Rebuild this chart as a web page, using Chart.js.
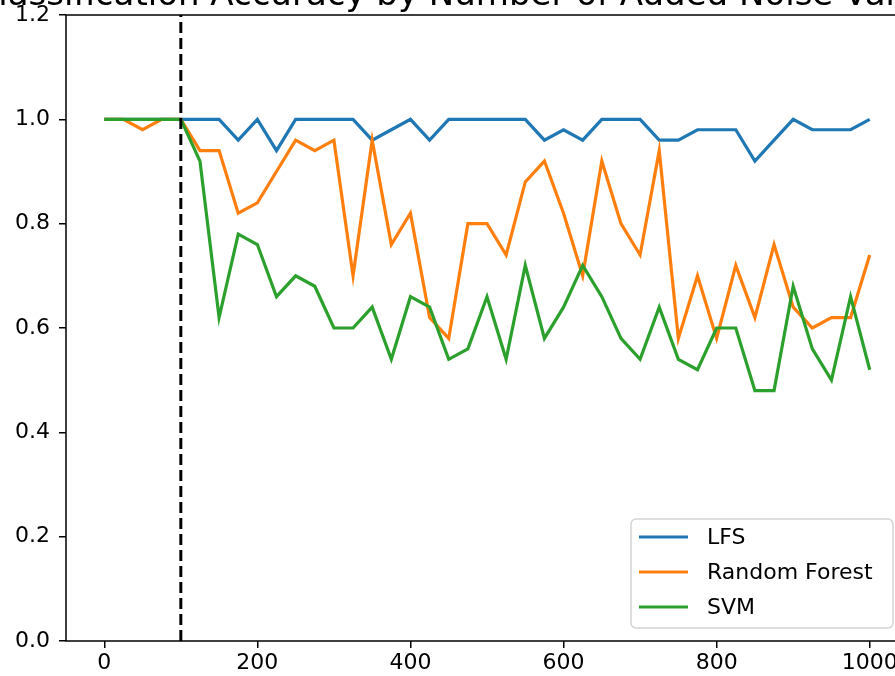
<!DOCTYPE html>
<html>
<head>
<meta charset="utf-8">
<script src="https://cdn.jsdelivr.net/npm/chart.js@4.4.0/dist/chart.umd.min.js"></script>
<style>
  html, body { margin: 0; padding: 0; background: #fff; overflow: hidden; }
  #wrap { width: 908px; height: 676px; }
</style>
</head>
<body>
<div id="wrap"><canvas id="myChart"></canvas></div>
<script>
// noise variables added (x) and accuracy per model
const noiseVars = [0, 25, 50, 75, 100, 125, 150, 175, 200, 225, 250, 275, 300, 325, 350, 375, 400, 425, 450, 475,
  500, 525, 550, 575, 600, 625, 650, 675, 700, 725, 750, 775, 800, 825, 850, 875, 900, 925, 950, 975, 1000];
const lfs = [1, 1, 1, 1, 1, 1, 1, 0.96, 1, 0.94, 1, 1, 1, 1, 0.96, 0.98, 1, 0.96, 1, 1,
  1, 1, 1, 0.96, 0.98, 0.96, 1, 1, 1, 0.96, 0.96, 0.98, 0.98, 0.98, 0.92, 0.96, 1, 0.98, 0.98, 0.98, 1];
const randomForest = [1, 1, 0.98, 1, 1, 0.94, 0.94, 0.82, 0.84, 0.90, 0.96, 0.94, 0.96, 0.70, 0.96, 0.76, 0.82, 0.62, 0.58, 0.80,
  0.80, 0.74, 0.88, 0.92, 0.82, 0.70, 0.92, 0.80, 0.74, 0.94, 0.58, 0.70, 0.58, 0.72, 0.62, 0.76, 0.64, 0.60, 0.62, 0.62, 0.74];
const svm = [1, 1, 1, 1, 1, 0.92, 0.62, 0.78, 0.76, 0.66, 0.70, 0.68, 0.60, 0.60, 0.64, 0.54, 0.66, 0.64, 0.54, 0.56,
  0.66, 0.54, 0.72, 0.58, 0.64, 0.72, 0.66, 0.58, 0.54, 0.64, 0.54, 0.52, 0.60, 0.60, 0.48, 0.48, 0.68, 0.56, 0.50, 0.66, 0.52];
const cutoff = 100;
const xTicks = [0, 200, 400, 600, 800, 1000];
const yTicks = [0, 0.2, 0.4, 0.6, 0.8, 1.0, 1.2];
const titleText = 'Classification Accuracy by Number of Added Noise Variables';

const FONT = 'DejaVu Sans';

function pts(ys) {
  return noiseVars.map((x, i) => ({ x: x, y: ys[i] }));
}

const frameAndLegend = {
  id: 'frameAndLegend',
  afterDraw(chart) {
    const ctx = chart.ctx;
    const a = chart.chartArea;
    ctx.save();
    // spines
    ctx.strokeStyle = '#000';
    ctx.lineWidth = 1.5;
    ctx.strokeRect(a.left, a.top, a.right - a.left, a.bottom - a.top);

    // title (mostly cut off at the top)
    ctx.fillStyle = '#000';
    ctx.font = '34px "' + FONT + '"';
    ctx.textAlign = 'center';
    ctx.textBaseline = 'alphabetic';
    ctx.fillText(titleText, (a.left + a.right) / 2, 5);

    // legend box, lower right inside axes
    const sets = chart.data.datasets.filter(d => !d.hideInLegend);
    const bx = a.right - 277, by = a.bottom - 122, bw = 262, bh = 109;
    const r = 5;
    ctx.beginPath();
    ctx.moveTo(bx + r, by);
    ctx.arcTo(bx + bw, by, bx + bw, by + bh, r);
    ctx.arcTo(bx + bw, by + bh, bx, by + bh, r);
    ctx.arcTo(bx, by + bh, bx, by, r);
    ctx.arcTo(bx, by, bx + bw, by, r);
    ctx.closePath();
    ctx.fillStyle = 'rgba(255,255,255,0.8)';
    ctx.fill();
    ctx.strokeStyle = '#d4d4d4';
    ctx.lineWidth = 1.5;
    ctx.stroke();

    ctx.font = '22px "' + FONT + '"';
    ctx.textAlign = 'left';
    ctx.textBaseline = 'middle';
    sets.forEach((d, i) => {
      const y = by + 18 + i * 35;
      ctx.strokeStyle = d.borderColor;
      ctx.lineWidth = 3;
      ctx.beginPath();
      ctx.moveTo(bx + 8, y);
      ctx.lineTo(bx + 57, y);
      ctx.stroke();
      ctx.fillStyle = '#000';
      ctx.fillText(d.label, bx + 76, y + 1);
    });
    ctx.restore();
  }
};

const ctx = document.getElementById('myChart').getContext('2d');
const myChart = new Chart(ctx, {
  type: 'line',
  data: {
    datasets: [
      {
        label: 'LFS',
        data: pts(lfs),
        borderColor: '#1f77b4',
        borderWidth: 3.2,
        pointRadius: 0,
        fill: false,
        order: 4
      },
      {
        label: 'Random Forest',
        data: pts(randomForest),
        borderColor: '#ff7f0e',
        borderWidth: 3.2,
        pointRadius: 0,
        fill: false,
        order: 3
      },
      {
        label: 'SVM',
        data: pts(svm),
        borderColor: '#2ca02c',
        borderWidth: 3.2,
        pointRadius: 0,
        fill: false,
        order: 2
      },
      {
        label: 'cutoff',
        hideInLegend: true,
        data: [{ x: cutoff, y: 0 }, { x: cutoff, y: 1.2 }],
        borderColor: '#000',
        borderWidth: 3,
        borderDash: [11, 5],
        pointRadius: 0,
        fill: false,
        order: 1
      }
    ]
  },
  options: {
    responsive: true,
    maintainAspectRatio: false,
    animation: false,
    layout: { padding: { top: 15, right: 0, left: 0, bottom: 0 } },
    scales: {
      x: {
        type: 'linear',
        min: -50,
        max: 1050,
        afterBuildTicks: (scale) => { scale.ticks = xTicks.map(v => ({ value: v })); },
        afterFit: (scale) => { scale.height = 35; scale.paddingLeft = 0; scale.paddingRight = 0; },
        border: { display: false },
        grid: { drawOnChartArea: false, drawTicks: true, tickLength: 7, color: '#000', lineWidth: 1.5 },
        ticks: {
          color: '#000',
          padding: 2,
          maxRotation: 0,
          font: { family: FONT, size: 22 },
          callback: (v) => `${v}`
        }
      },
      y: {
        min: 0,
        max: 1.2,
        afterBuildTicks: (scale) => { scale.ticks = yTicks.map(v => ({ value: v })); },
        afterFit: (scale) => { scale.width = 66; scale.paddingTop = 0; scale.paddingBottom = 0; },
        border: { display: false },
        grid: { drawOnChartArea: false, drawTicks: true, tickLength: 7, color: '#000', lineWidth: 1.5 },
        ticks: {
          color: '#000',
          padding: 9,
          font: { family: FONT, size: 22 },
          callback: (v) => v.toFixed(1)
        }
      }
    },
    plugins: {
      legend: { display: false },
      tooltip: { enabled: false },
      title: { display: false }
    }
  },
  plugins: [frameAndLegend]
});
</script>
</body>
</html>
